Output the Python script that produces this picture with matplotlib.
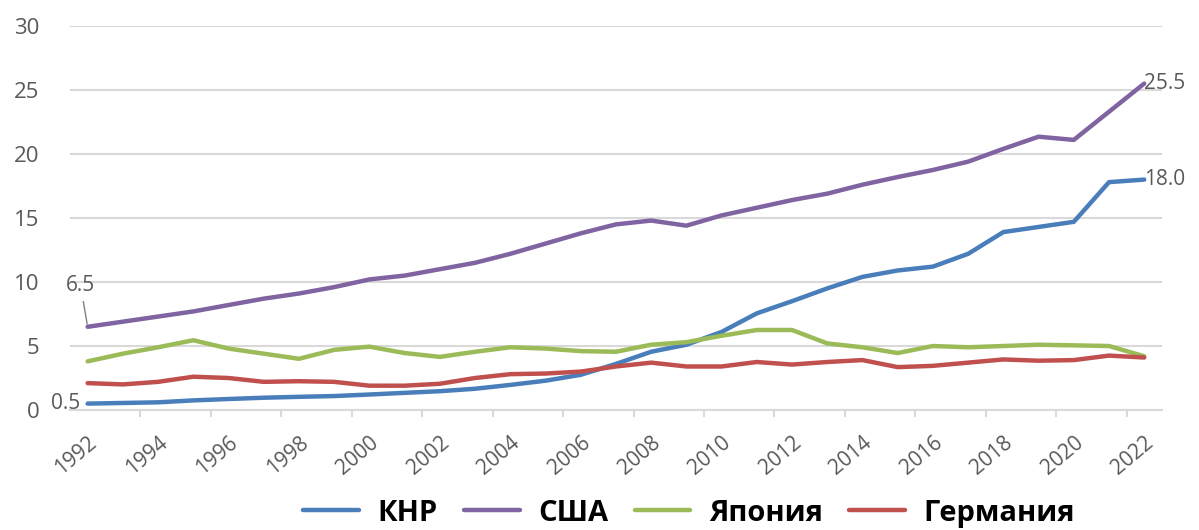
import numpy as np
import matplotlib.pyplot as plt

# ВВП, трлн долл.
years = list(range(1992, 2023))
china = [0.5, 0.55, 0.6, 0.75, 0.86, 0.96, 1.03, 1.09, 1.21, 1.34, 1.47, 1.66, 1.96, 2.29, 2.75,
         3.6, 4.55, 5.1, 6.1, 7.55, 8.5, 9.5, 10.4, 10.9, 11.2, 12.2, 13.9, 14.3, 14.7, 17.8, 18.0]
usa = [6.5, 6.9, 7.3, 7.7, 8.2, 8.7, 9.1, 9.6, 10.2, 10.5, 11.0, 11.5, 12.2, 13.0, 13.8,
       14.5, 14.8, 14.4, 15.2, 15.8, 16.4, 16.9, 17.6, 18.2, 18.75, 19.4, 20.4, 21.35, 21.1, 23.3, 25.5]
japan = [3.8, 4.4, 4.9, 5.45, 4.8, 4.4, 4.0, 4.7, 4.95, 4.45, 4.15, 4.55, 4.9, 4.8, 4.6,
         4.55, 5.1, 5.3, 5.8, 6.25, 6.25, 5.2, 4.9, 4.45, 5.0, 4.9, 5.0, 5.1, 5.05, 5.0, 4.2]
germany = [2.1, 2.0, 2.2, 2.6, 2.5, 2.2, 2.25, 2.2, 1.9, 1.9, 2.05, 2.5, 2.8, 2.85, 3.0,
           3.4, 3.7, 3.4, 3.4, 3.75, 3.55, 3.75, 3.9, 3.35, 3.45, 3.7, 3.95, 3.85, 3.9, 4.25, 4.1]

series = [('КНР', china, '#4a7ebb'),
          ('США', usa, '#8064a2'),
          ('Япония', japan, '#9bbb59'),
          ('Германия', germany, '#c0504d')]

fig = plt.figure(figsize=(11.99, 5.30), dpi=100)
ax = fig.add_axes([0.0584, 0.2264, 0.9106, 0.7246])

x = np.arange(len(years))
for name, vals, col in series:
    ax.plot(x, vals, color=col, lw=3.2, label=name, solid_capstyle='round', zorder=3)

ax.set_xlim(-0.5, len(years) - 0.5)
ax.set_ylim(0, 30)
ax.set_yticks(range(0, 31, 5))
ax.yaxis.grid(True, color='#d9d9d9', lw=1.5)
ax.set_axisbelow(True)
for s in ['top', 'right', 'left']:
    ax.spines[s].set_visible(False)
ax.spines['bottom'].set_color('#d9d9d9')
ax.spines['bottom'].set_linewidth(1.5)

ax.tick_params(axis='y', length=0, labelsize=16, labelcolor='#595959', pad=22)
ax.set_xticks(x[::2])
ax.set_xticklabels([str(y) for y in years[::2]], rotation=40, ha='right',
                   rotation_mode='anchor', fontsize=15, color='#595959')
ax.tick_params(axis='x', which='major', length=0, pad=16)
ax.set_xticks(np.arange(1.5, len(years) - 1, 2), minor=True)
ax.tick_params(axis='x', which='minor', length=5, color='#d9d9d9', width=1.5)
for t in ax.get_yticklabels() + ax.get_xticklabels():
    t.set_fontfamily('Open Sans')

# подписи значений
lab = dict(fontsize=15, color='#595959', family='Open Sans')
ax.annotate('6.5', xy=(0, usa[0]), xytext=(-0.2, 8.9), ha='center', va='bottom', **lab,
            arrowprops=dict(arrowstyle='-', color='#7f7f7f', lw=1))
ax.text(-0.2, china[0], '0.5', ha='right', va='center', **lab)
ax.text(30.0, usa[-1], '25.5', ha='left', va='center', clip_on=False, **lab)
ax.text(30.0, china[-1], '18.0', ha='left', va='center', clip_on=False, **lab)

leg = fig.legend(loc='lower center', bbox_to_anchor=(0.575, -0.045), ncol=4, frameon=False,
                 handlelength=1.9, columnspacing=0.9, handletextpad=0.65,
                 prop={'family': 'Open Sans', 'weight': 'bold', 'size': 21})

fig.savefig('out.png', dpi=100)
